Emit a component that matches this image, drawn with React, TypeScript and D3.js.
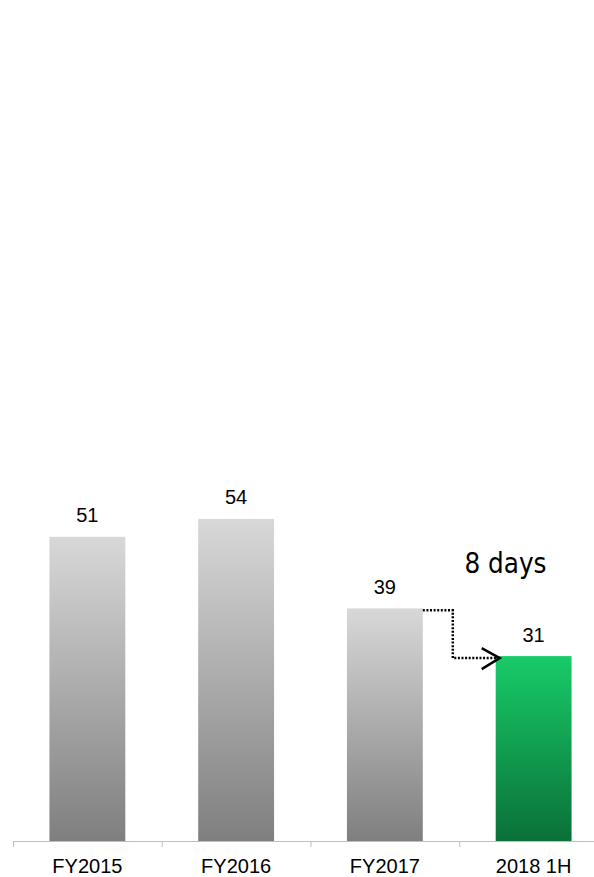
import React from "react";
import * as d3 from "d3";

// Days per period
const categories = ["FY2015", "FY2016", "FY2017", "2018 1H"];
const values = [51, 54, 39, 31];
const highlightIndex = 3;
const noteText = "8 days";

const W = 594;
const H = 877;

export default function App() {
  const baseline = 841;
  const x = d3.scaleBand<string>().domain(categories).range([13, 608]).paddingInner(0.49).paddingOuter(0.245);
  const y = d3.scaleLinear().domain([0, 100]).range([baseline, baseline - 596.5]);
  const band = x.bandwidth();
  const step = x.step();

  const ticks = d3.range(categories.length + 1).map((i) => 13 + i * step);

  // Connector from FY2017 bar to 2018 1H bar
  const from = categories[2];
  const to = categories[3];
  const x0 = (x(from) as number) + band;
  const y0 = y(values[2]) + 2;
  const xMid = x0 + 30;
  const x1 = (x(to) as number) + 4;
  const y1 = y(values[3]) + 2;
  const path = d3.path();
  path.moveTo(x0, y0);
  path.lineTo(xMid, y0);
  path.lineTo(xMid, y1);
  path.lineTo(x1, y1);

  const font = "'Liberation Sans', Arial, sans-serif";

  return (
    <svg width={W} height={H} style={{ position: "absolute", left: 0, top: 0 }}>
      <defs>
        <linearGradient id="gGray" x1="0" y1="0" x2="0" y2="1">
          <stop offset="0%" stopColor="#d8d8d8" />
          <stop offset="100%" stopColor="#7f7f7f" />
        </linearGradient>
        <linearGradient id="gGreen" x1="0" y1="0" x2="0" y2="1">
          <stop offset="0%" stopColor="#18cb69" />
          <stop offset="100%" stopColor="#0b7038" />
        </linearGradient>
      </defs>
      <rect width={W} height={H} fill="#ffffff" />
      {categories.map((c, i) => (
        <g key={c}>
          <rect
            x={x(c)}
            y={y(values[i])}
            width={band}
            height={baseline - y(values[i])}
            fill={i === highlightIndex ? "url(#gGreen)" : "url(#gGray)"}
          />
          <text
            x={(x(c) as number) + band / 2}
            y={y(values[i]) - 14.5}
            textAnchor="middle"
            fontFamily={font}
            fontSize={20}
            fill="#000"
          >
            {values[i]}
          </text>
          <text
            x={(x(c) as number) + band / 2}
            y={873}
            textAnchor="middle"
            fontFamily={font}
            fontSize={20}
            fill="#000"
          >
            {c}
          </text>
        </g>
      ))}
      <line x1={13} x2={W} y1={baseline + 0.5} y2={baseline + 0.5} stroke="#bfbfbf" strokeWidth={1} />
      {ticks.map((t, i) => (
        <line key={i} x1={t + 0.5} x2={t + 0.5} y1={baseline} y2={baseline + 6} stroke="#bfbfbf" strokeWidth={1} />
      ))}
      <path d={path.toString()} fill="none" stroke="#000" strokeWidth={2.5} strokeDasharray="2 1.6" />
      <polyline
        points={`${x1 - 18},${y1 - 10} ${x1},${y1} ${x1 - 18},${y1 + 11}`}
        fill="none"
        stroke="#000"
        strokeWidth={2.5}
      />
      <text
        x={505.5}
        y={573}
        textAnchor="middle"
        fontFamily="'DejaVu Sans Condensed', 'DejaVu Sans', sans-serif"
        fontSize={27.5}
        fill="#000"
      >
        {noteText}
      </text>
    </svg>
  );
}
